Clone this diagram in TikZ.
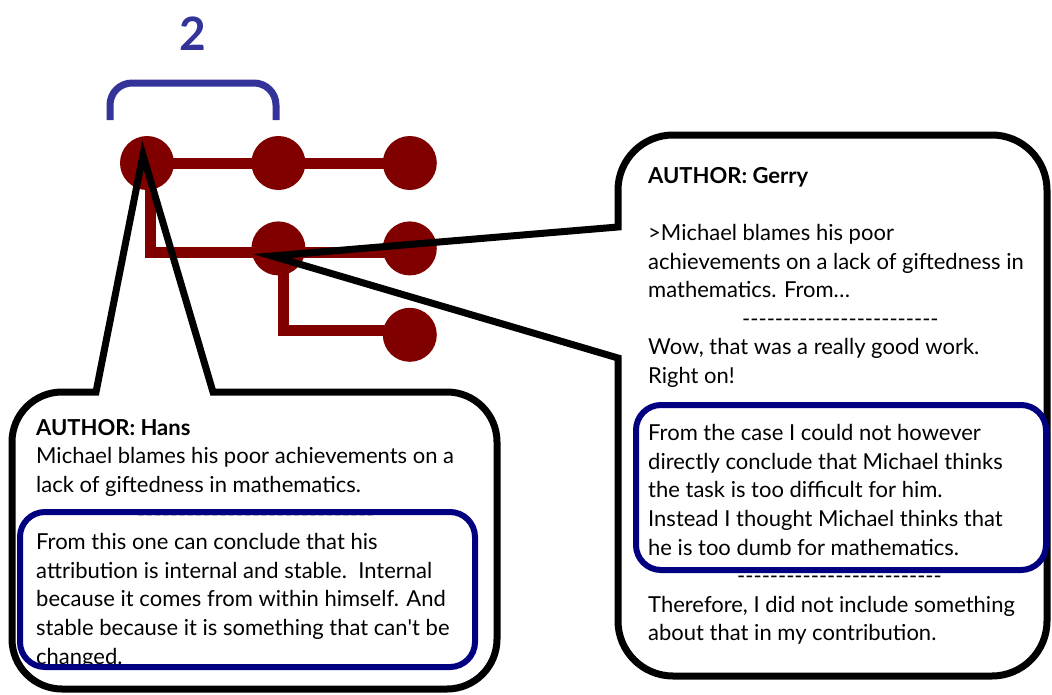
\documentclass[tikz,border=0pt]{standalone}
\usepackage{fontspec}
\setmainfont{Lato}
\usetikzlibrary{positioning, calc, backgrounds}
\definecolor{threadRed}{HTML}{800000}
\definecolor{countBlue}{HTML}{333399}
\definecolor{frameNavy}{HTML}{000080}
\newcommand\dashrow[1]{\foreach \k in {1,...,#1}{\mbox{-}}}
\tikzset{
    postdot/.style={circle, fill=threadRed, minimum size=54pt, inner sep=0pt},
    threadline/.style={draw=threadRed, line width=11pt},
    bubble/.style={draw=black, line width=7pt, line join=miter},
    hilite/.style={draw=frameNavy, line width=6pt, rounded corners=25pt},
    remark/.style={align=left, inner sep=0pt, anchor=north west, font=\fontsize{22}{28.6}\selectfont},
    countbrace/.style={draw=countBlue, line width=7pt}
}

\begin{document}
\begin{tikzpicture}[x=1pt, y=-1pt]
    \useasboundingbox (0,0) rectangle (1052,694);

    % Thread of posts
    \node (root) [postdot] at (147,163) {};
    \node (midTop) [postdot, right=77pt of root] {};
    \node (endTop) [postdot, right=77pt of midTop] {};
    \node (midReply) [postdot, below=31pt of midTop] {};
    \node (endReply) [postdot, right=77pt of midReply] {};
    \node (endLow) [postdot, below=32pt of endReply] {};

    \begin{scope}[on background layer]
        \draw [threadline] (root.center) -- (midTop.center) -- (endTop.center);
        \draw [threadline] ([xshift=3pt]root.center) |- ([yshift=-4pt]endReply.center);
        \draw [threadline] ([xshift=5pt]midReply.center) |- ([yshift=4pt]endLow.center);
    \end{scope}

    % Thread length
    \node (countLabel) [text=countBlue, font=\fontsize{46}{46}\selectfont\bfseries] at (193,34) {2};
    \draw [countbrace] (110,120) [rounded corners=22pt] -- (110,83) -- (276,83) -- (276,120);

    % Callouts
    \coordinate (hansTip) at (143,155);
    \coordinate (gerryTip) at (272,256);
    \draw [bubble] (300,689) [rounded corners=50pt] -- (12,689) -- (12,392) [sharp corners] -- (96,392) -- (hansTip) -- (213,392) -- (240,392) [rounded corners=50pt] -- (497,392) -- (497,689) -- cycle;
    \draw [bubble] (618,500) [rounded corners=55pt] -- (618,676) -- (1047,676) -- (1047,135) -- (618,135) [sharp corners] -- (618,227) -- (gerryTip) -- (618,358) -- cycle;

    % Comment texts
    \node (hansNote) [remark] at (36,419) {\textbf{AUTHOR: Hans}\\
        Michael blames his poor achievements on a\\
        lack of giftedness in mathematics.\\
        \hspace*{101pt}\dashrow{29}\\
        From this one can conclude that his\\
        attribution is internal and stable.\ \ Internal\\
        because it comes from within himself. And\\
        stable because it is something that can\textquotesingle t be\\
        changed.};
    \node (gerryNote) [remark] at (648,167) {\textbf{AUTHOR: Gerry}\\
        \mbox{}\\
        >Michael blames his poor\\
        achievements on a lack of giftedness in\\
        mathematics. From…\\
        \hspace*{94pt}\dashrow{24}\\
        Wow, that was a really good work.\\
        Right on!\\
        \hspace*{94pt}\dashrow{24}\\
        From the case I could not however\\
        directly conclude that Michael thinks\\
        the task is too difficult for him.\\
        Instead I thought Michael thinks that\\
        he is too dumb for mathematics.\\
        \hspace*{89pt}\dashrow{25}\\
        Therefore, I did not include something\\
        about that in my contribution.};

    % Highlighted parts
    \draw [hilite] (20,512) rectangle (475,667);
    \draw [hilite] (636,405) rectangle (1046,570);

\end{tikzpicture}
\end{document}
